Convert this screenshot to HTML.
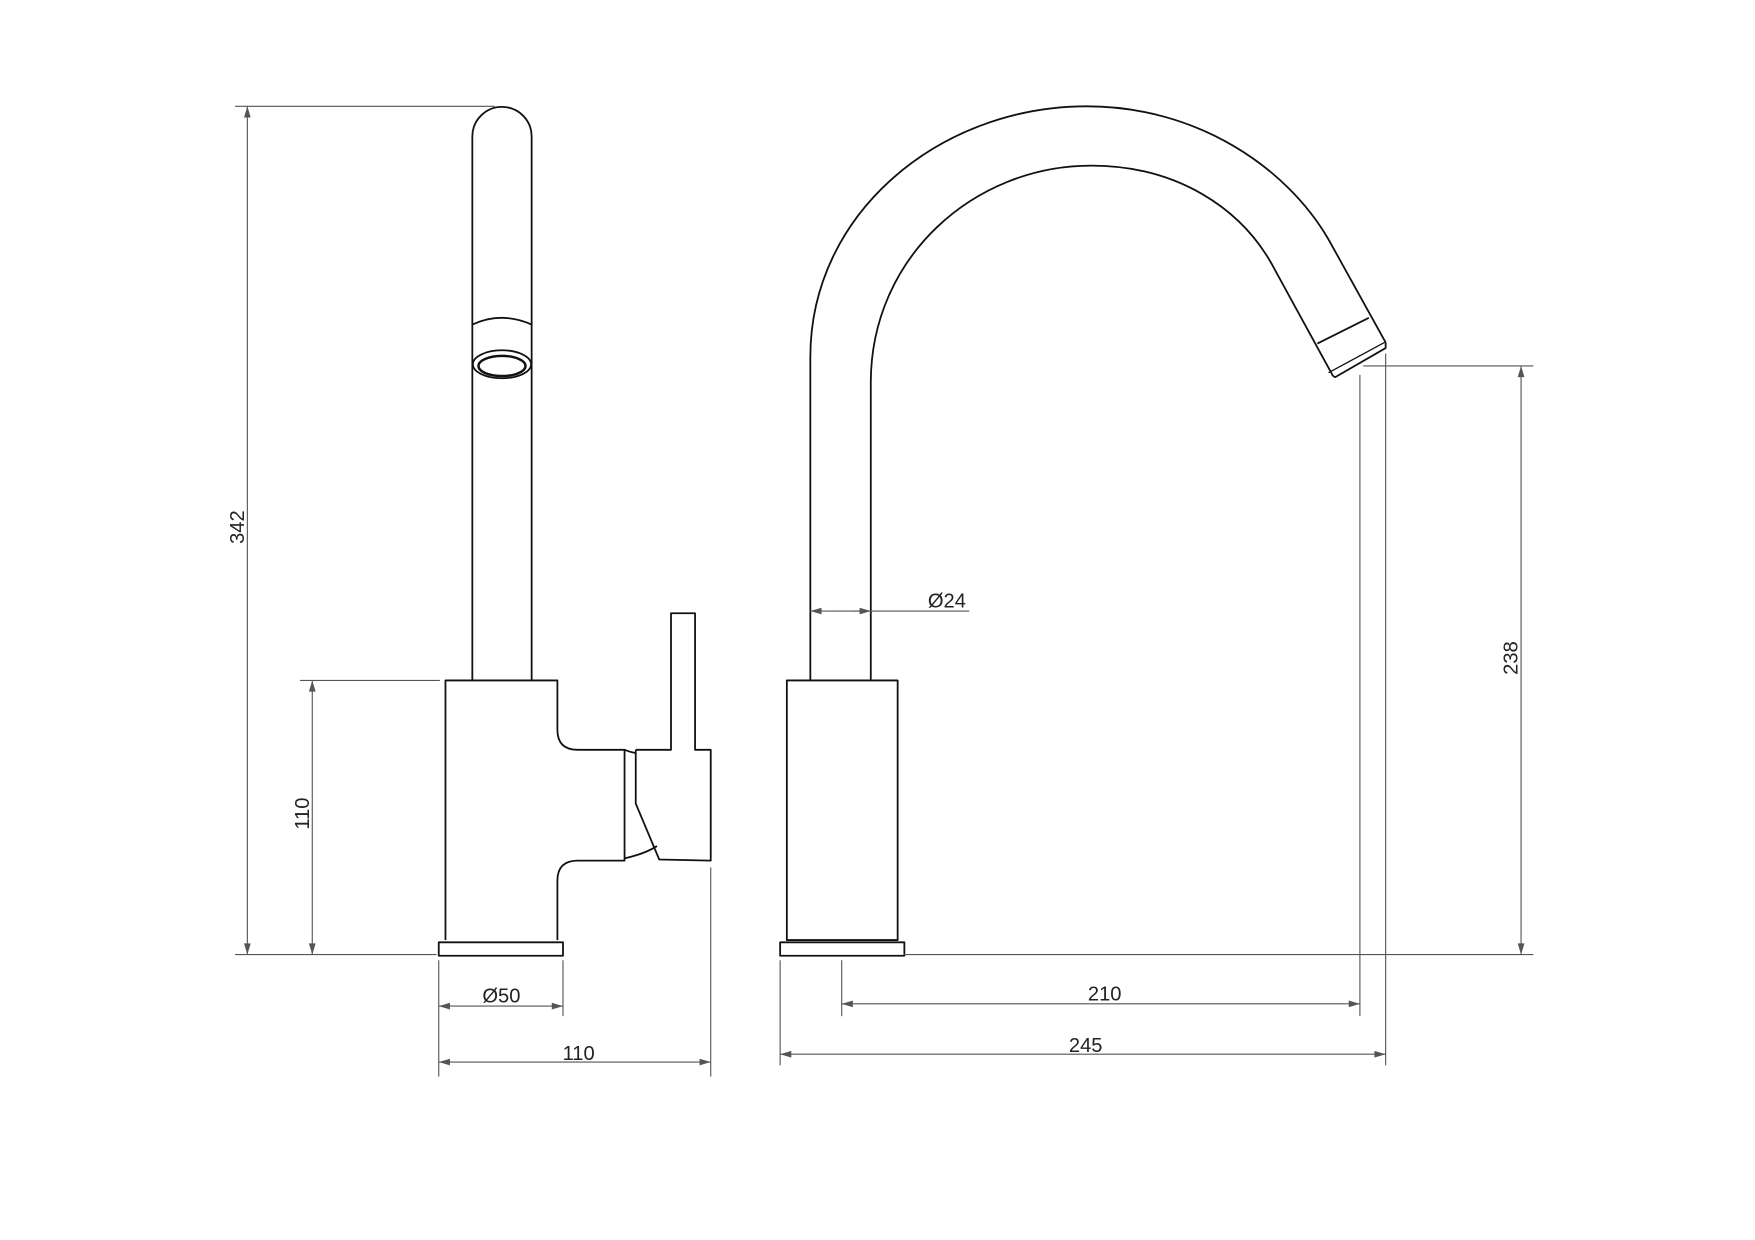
<!DOCTYPE html>
<html><head><meta charset="utf-8"><style>
html,body{margin:0;padding:0;background:#fff;}
svg{display:block;}
text{font-family:"Liberation Sans","DejaVu Sans",sans-serif;font-size:18px;fill:#222;}
</style></head><body>
<svg width="1755" height="1240" viewBox="0 0 1568 1108" preserveAspectRatio="none" xmlns="http://www.w3.org/2000/svg">
<defs>
<marker id="a" viewBox="0 0 10 6" refX="10" refY="3" markerWidth="14" markerHeight="6" markerUnits="userSpaceOnUse" orient="auto-start-reverse"><path d="M0,0 L10,3 L0,6 z" fill="#555"/></marker>
</defs>
<g fill="none" stroke="#111" stroke-width="1.6" stroke-linejoin="round">
<!-- Left view -->
<path d="M422,608 L422,122 A26.5,26.5 0 0 1 475,122 L475,608"/>
<path d="M422,290 Q448,278 475,290"/>
<ellipse cx="448.5" cy="325.5" rx="26" ry="12.5"/>
<ellipse cx="448.5" cy="327" rx="21" ry="9" stroke-width="2.2"/>
<path d="M398,840 L398,608 L498,608 L498,652 Q498,670 516,670 L558,670 L558,769 L516,769 Q498,769 498,787 L498,840"/>
<rect x="392" y="842" width="111" height="12"/>
<path d="M558,670 Q563,672 568,673"/>
<path d="M558,767 Q576,763 587,756"/>
<path d="M568,670 L568,718 L589,768 L635,769 L635,670 L621,670 L621,548 L599.5,548 L599.5,670 L568,670"/>
<!-- Right view -->
<rect x="703" y="608" width="99" height="232"/>
<rect x="697" y="842" width="111" height="12"/>
<path d="M724,608 L724,319 C724,190 840,95 971,95 C1070,95 1150,150 1187,214 L1238,306"/>
<path d="M778,608 L778,342 C778,230 870,148 975,148 C1050,148 1110,185 1139,241 L1191,336"/>
<path d="M1177,307 L1223,284"/>
<path d="M1238,306 L1238,311 L1193,337 L1191,336"/>
<path d="M1187,333 L1237,306" stroke-width="1.2"/>
</g>
<g stroke="#555" stroke-width="1" fill="none">
<!-- 342 -->
<line x1="210" y1="95" x2="442" y2="95"/>
<line x1="210" y1="853" x2="390" y2="853"/>
<line x1="221" y1="95" x2="221" y2="853" marker-start="url(#a)" marker-end="url(#a)"/>
<!-- 110 vertical -->
<line x1="268" y1="608" x2="393" y2="608"/>
<line x1="279" y1="608" x2="279" y2="853" marker-start="url(#a)" marker-end="url(#a)"/>
<!-- Ø50 -->
<line x1="392" y1="858" x2="392" y2="962"/>
<line x1="503" y1="858" x2="503" y2="908"/>
<line x1="392" y1="899" x2="503" y2="899" marker-start="url(#a)" marker-end="url(#a)"/>
<!-- 110 horizontal -->
<line x1="635" y1="775" x2="635" y2="962"/>
<line x1="392" y1="949" x2="635" y2="949" marker-start="url(#a)" marker-end="url(#a)"/>
<!-- Ø24 -->
<line x1="740" y1="546" x2="724" y2="546" marker-end="url(#a)"/>
<line x1="762" y1="546" x2="778" y2="546" marker-end="url(#a)"/>
<line x1="740" y1="546" x2="866" y2="546"/>
<!-- 210 -->
<line x1="752" y1="858" x2="752" y2="908"/>
<line x1="1215" y1="335" x2="1215" y2="908"/>
<line x1="752" y1="897" x2="1215" y2="897" marker-start="url(#a)" marker-end="url(#a)"/>
<!-- 245 -->
<line x1="697" y1="858" x2="697" y2="952"/>
<line x1="1238" y1="316" x2="1238" y2="952"/>
<line x1="697" y1="942" x2="1238" y2="942" marker-start="url(#a)" marker-end="url(#a)"/>
<!-- 238 -->
<line x1="1218" y1="327" x2="1370" y2="327"/>
<line x1="808" y1="853" x2="1370" y2="853"/>
<line x1="1359" y1="327" x2="1359" y2="853" marker-start="url(#a)" marker-end="url(#a)"/>
</g>
<text x="218" y="471" text-anchor="middle" transform="rotate(-90 218 471)">342</text>
<text x="276" y="727" text-anchor="middle" transform="rotate(-90 276 727)">110</text>
<text x="448" y="896" text-anchor="middle">Ø50</text>
<text x="517" y="947" text-anchor="middle">110</text>
<text x="846" y="543" text-anchor="middle">Ø24</text>
<text x="987" y="894" text-anchor="middle">210</text>
<text x="970" y="940" text-anchor="middle">245</text>
<text x="1356" y="588" text-anchor="middle" transform="rotate(-90 1356 588)">238</text>
</svg>
</body></html>
